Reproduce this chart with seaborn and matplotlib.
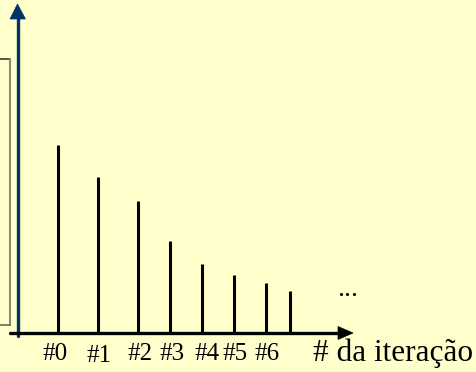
import matplotlib
matplotlib.use("Agg")
import matplotlib.pyplot as plt
from matplotlib.patches import Polygon
from matplotlib.lines import Line2D
import seaborn as sns
import pandas as pd

# iteration positions along the axis, stem heights and their labels
positions = [0, 1, 2, 2.8, 3.6, 4.4, 5.2, 5.8]
values = [188, 156, 132, 92, 69, 58, 50, 42]
tick_labels = ["#0", "#1", "#2", "#3", "#4", "#5", "#6"]
label_shift = [-2.5, 1, 2, 2, 5, 1.5, 1.5]
label_drop = [27, 29, 27, 27, 27, 27, 27]
axis_title = "# da iteração"

BG = "#FFFFCC"
NAVY = "#003366"
W, H = 477, 372

sns.set_style("white", {"axes.facecolor": BG, "figure.facecolor": BG})
plt.rcParams["font.family"] = ["Liberation Serif", "DejaVu Serif"]

df = pd.DataFrame({"pos": positions, "val": values})

fig = plt.figure(figsize=(W / 100, H / 100), dpi=100)
fig.patch.set_facecolor(BG)


def fx(x):
    return x / W


def fy(y):
    return 1 - y / H


# axes whose origin sits where the two arrows cross
ox, oy = 17.5, 333
ax = fig.add_axes([fx(ox), fy(oy), 1 - fx(ox), 1 - fy(oy)])
ax.set_xlim(-(58 - ox) / 40, -(58 - ox) / 40 + (W - ox) / 40)
ax.set_ylim(0, oy)
ax.set_axis_off()
ax.patch.set_alpha(0)

# stems
ax.vlines(df["pos"], 0, df["val"], colors="black", linewidth=2.2)

# iteration labels below the axis
for p, lab, dx, dy in zip(positions, tick_labels, label_shift, label_drop):
    ax.annotate(lab, xy=(p, 0), xytext=(dx, -dy), textcoords="offset pixels",
                ha="center", va="baseline", fontsize=18, color="black")

# partially visible box at the left edge
fig.add_artist(Line2D([fx(-2), fx(10)], [fy(59), fy(59)], color="#3a3a2a", lw=1.2))
fig.add_artist(Line2D([fx(10), fx(10)], [fy(59), fy(325)], color="#8a8a70", lw=1.5))
fig.add_artist(Line2D([fx(-2), fx(10)], [fy(325), fy(325)], color="#6a6a55", lw=1.2))

# vertical axis arrow
fig.add_artist(Line2D([fx(ox), fx(ox)], [fy(336), fy(16)], color=NAVY, lw=2.4))
fig.add_artist(Polygon([(fx(ox), fy(4)), (fx(10), fy(19)), (fx(25.5), fy(19))],
                       closed=True, facecolor=NAVY, edgecolor=NAVY, lw=0.5,
                       transform=fig.transFigure))

# horizontal axis arrow
fig.add_artist(Line2D([fx(10), fx(340)], [fy(oy), fy(oy)], color="black", lw=2.4))
fig.add_artist(Polygon([(fx(353), fy(oy)), (fx(338), fy(326.5)), (fx(338), fy(339.5))],
                       closed=True, facecolor="black", edgecolor="black", lw=0.5,
                       transform=fig.transFigure))

# continuation marker and axis title
fig.text(fx(348), fy(296), "...", ha="center", va="baseline", fontsize=20, color="black")
fig.text(fx(313), fy(361), axis_title, ha="left", va="baseline", fontsize=22.5, color="black")

fig.savefig("out.png", dpi=100, facecolor=BG)
